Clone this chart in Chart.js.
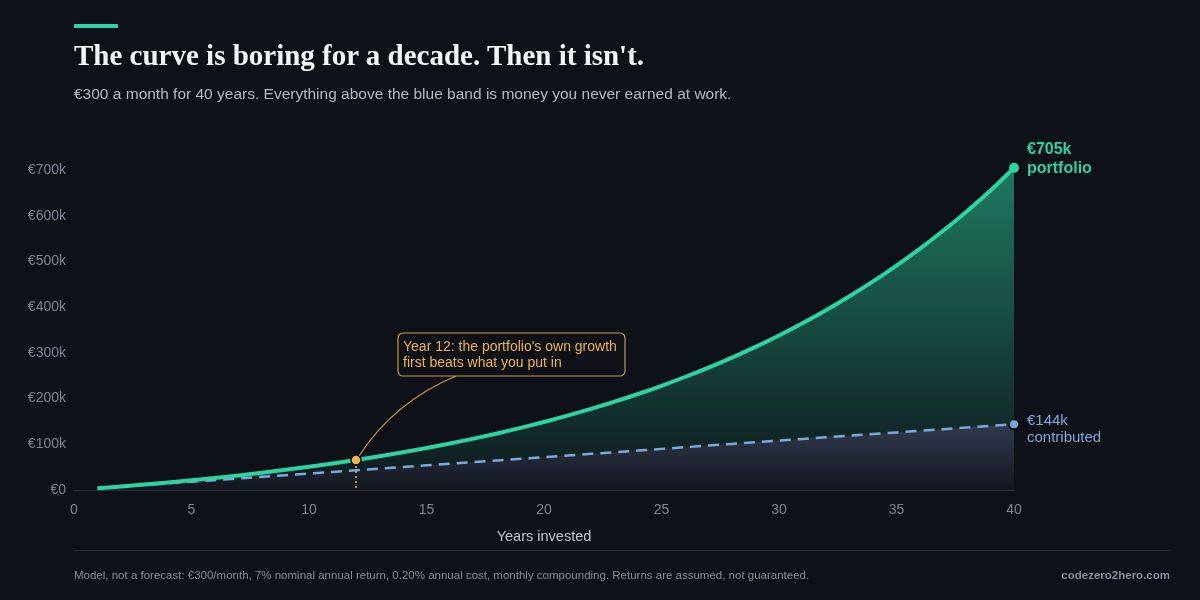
<!DOCTYPE html>
<html>
<head>
<meta charset="utf-8">
<script src="https://cdn.jsdelivr.net/npm/chart.js@4"></script>
<style>
  html, body { margin: 0; padding: 0; background: #0e1118; }
  #wrap { position: relative; width: 1200px; height: 600px; overflow: hidden; }
  #chart { position: absolute; left: 0; top: 0; }
  .accent { position: absolute; left: 74px; top: 24px; width: 44px; height: 4px; background: #2dd4a0; }
  .title { position: absolute; left: 74px; top: 39px; font-family: "Liberation Serif", serif; font-weight: bold;
    font-size: 29px; color: #f3f4f6; white-space: nowrap; }
  .subtitle { position: absolute; left: 74px; top: 85px; font-family: "Liberation Sans", sans-serif;
    font-size: 15.5px; color: #b4b9c2; white-space: nowrap; }
  .rule { position: absolute; left: 74px; top: 550px; width: 1096px; height: 1px; background: #262b35; }
  .foot { position: absolute; left: 74px; top: 569px; font-family: "Liberation Sans", sans-serif;
    font-size: 11.5px; color: #858c99; white-space: nowrap; }
  .brand { position: absolute; right: 30px; top: 569px; font-family: "Liberation Sans", sans-serif;
    font-size: 11.5px; font-weight: bold; color: #858c99; }
</style>
</head>
<body>
<div id="wrap">
  <canvas id="chart" width="1200" height="600"></canvas>
  <div class="accent"></div>
  <div class="title">The curve is boring for a decade. Then it isn't.</div>
  <div class="subtitle">€300 a month for 40 years. Everything above the blue band is money you never earned at work.</div>
  <div class="rule"></div>
  <div class="foot">Model, not a forecast: €300/month, 7% nominal annual return, 0.20% annual cost, monthly compounding. Returns are assumed, not guaranteed.</div>
  <div class="brand">codezero2hero.com</div>
</div>
<script>
// years invested
const years = [1, 2, 3, 4, 5, 6, 7, 8, 9, 10, 11, 12, 13, 14, 15, 16, 17, 18, 19, 20,
  21, 22, 23, 24, 25, 26, 27, 28, 29, 30, 31, 32, 33, 34, 35, 36, 37, 38, 39, 40];

// portfolio value (€)
const portfolio = [3700, 7700, 11900, 16400, 21300, 26400, 31900, 37800, 44100, 50800,
  58000, 65600, 73800, 82500, 91800, 101800, 112400, 123800, 135900, 148900,
  162700, 177500, 193200, 210100, 228100, 247300, 267800, 289800, 313200, 338200,
  364900, 393400, 423900, 456400, 491200, 528300, 567900, 610200, 655500, 705000];

// money put in (€)
const contributed = [3600, 7200, 10800, 14400, 18000, 21600, 25200, 28800, 32400, 36000,
  39600, 43200, 46800, 50400, 54000, 57600, 61200, 64800, 68400, 72000,
  75600, 79200, 82800, 86400, 90000, 93600, 97200, 100800, 104400, 108000,
  111600, 115200, 118800, 122400, 126000, 129600, 133200, 136800, 140400, 144000];

const yTicks = [0, 100000, 200000, 300000, 400000, 500000, 600000, 700000];
const xTicks = [0, 5, 10, 15, 20, 25, 30, 35, 40];

const markYear = 12;
const noteLines = ["Year 12: the portfolio's own growth", "first beats what you put in"];

const GREEN = '#2dd4a0';
const BLUE = '#7ea8dc';
const ORANGE = '#f0b44c';
const BG = '#0e1118';
const SANS = '"Liberation Sans", Arial, sans-serif';

const last = years.length - 1;

function greenFill(c) {
  const a = c.chart.chartArea;
  if (!a) return 'rgba(45,212,160,0.3)';
  const g = c.chart.ctx.createLinearGradient(0, a.top, 0, a.bottom);
  g.addColorStop(0, 'rgba(45,212,160,0.55)');
  g.addColorStop(1, 'rgba(45,212,160,0.04)');
  return g;
}

function blueFill(c) {
  const chart = c.chart;
  const a = chart.chartArea;
  if (!a) return 'rgba(120,140,180,0.2)';
  const top = chart.scales.y.getPixelForValue(contributed[last]);
  const g = chart.ctx.createLinearGradient(0, top, 0, a.bottom);
  g.addColorStop(0, 'rgba(120,140,185,0.34)');
  g.addColorStop(1, 'rgba(120,140,185,0.05)');
  return g;
}

// annotation, end labels
const overlay = {
  id: 'overlay',
  afterDatasetsDraw(chart) {
    const ctx = chart.ctx;
    const xs = chart.scales.x, ys = chart.scales.y;
    const i = years.indexOf(markYear);
    const px = xs.getPixelForValue(markYear);
    const py = ys.getPixelForValue(portfolio[i]);
    const base = ys.getPixelForValue(0);

    ctx.save();
    // dotted drop line
    ctx.strokeStyle = ORANGE;
    ctx.lineWidth = 1.5;
    ctx.setLineDash([2, 3]);
    ctx.beginPath();
    ctx.moveTo(px, py + 6);
    ctx.lineTo(px, base);
    ctx.stroke();
    ctx.setLineDash([]);

    // box
    const bx = px + 42, by = py - 127, bw = 227, bh = 43;
    ctx.strokeStyle = '#c99a48';
    ctx.lineWidth = 1.2;
    ctx.beginPath();
    ctx.moveTo(px + 3, py - 4);
    ctx.quadraticCurveTo(px + 38, py - 58, bx + 58, by + bh);
    ctx.stroke();

    ctx.fillStyle = BG;
    ctx.beginPath();
    ctx.roundRect(bx, by, bw, bh, 5);
    ctx.fill();
    ctx.stroke();

    ctx.fillStyle = ORANGE;
    ctx.font = '14px ' + SANS;
    ctx.textBaseline = 'middle';
    ctx.textAlign = 'left';
    ctx.fillText(noteLines[0], bx + 5, by + 14);
    ctx.fillText(noteLines[1], bx + 5, by + 30);

    // marker dot
    ctx.fillStyle = ORANGE;
    ctx.strokeStyle = BG;
    ctx.lineWidth = 1.5;
    ctx.beginPath();
    ctx.arc(px, py, 5, 0, Math.PI * 2);
    ctx.fill();
    ctx.stroke();

    // end labels
    const ex = xs.getPixelForValue(years[last]) + 13;
    const gy = ys.getPixelForValue(portfolio[last]);
    ctx.fillStyle = GREEN;
    ctx.font = 'bold 16px ' + SANS;
    ctx.fillText('€' + Math.round(portfolio[last] / 1000) + 'k', ex, gy - 18);
    ctx.fillText('portfolio', ex, gy + 1);

    const cy = ys.getPixelForValue(contributed[last]);
    ctx.fillStyle = BLUE;
    ctx.font = '15px ' + SANS;
    ctx.fillText('€' + Math.round(contributed[last] / 1000) + 'k', ex, cy - 3);
    ctx.fillText('contributed', ex, cy + 14);
    ctx.restore();
  }
};

new Chart(document.getElementById('chart'), {
  type: 'line',
  data: {
    labels: years,
    datasets: [
      {
        label: 'Portfolio',
        data: years.map((y, k) => ({ x: y, y: portfolio[k] })),
        borderColor: GREEN,
        borderWidth: 4,
        backgroundColor: greenFill,
        fill: '+1',
        tension: 0.3,
        cubicInterpolationMode: 'monotone',
        pointRadius: c => c.dataIndex === last ? 5 : 0,
        pointBackgroundColor: GREEN,
        pointBorderWidth: 0,
        clip: false
      },
      {
        label: 'Contributed',
        data: years.map((y, k) => ({ x: y, y: contributed[k] })),
        borderColor: BLUE,
        borderWidth: 2.5,
        borderDash: [11, 7],
        backgroundColor: blueFill,
        fill: 'origin',
        tension: 0,
        pointRadius: c => c.dataIndex === last ? 5 : 0,
        pointBackgroundColor: BLUE,
        pointBorderColor: BG,
        pointBorderWidth: 2,
        clip: false
      }
    ]
  },
  options: {
    responsive: false,
    animation: false,
    layout: { padding: { left: 0, right: 186, top: 161, bottom: 50 } },
    plugins: {
      legend: { display: false },
      tooltip: { enabled: false }
    },
    scales: {
      x: {
        type: 'linear',
        min: 0,
        max: 40,
        afterBuildTicks: s => { s.ticks = xTicks.map(v => ({ value: v })); },
        afterFit: s => { s.height = 60; },
        grid: { display: false, drawTicks: false },
        border: { display: true, color: '#2a2f3a', width: 1 },
        ticks: { color: '#7d8594', padding: 12, font: { family: SANS, size: 14 } },
        title: {
          display: true,
          text: 'Years invested',
          color: '#c2c6ce',
          padding: { top: 4, bottom: 4 },
          font: { family: SANS, size: 14.5 }
        }
      },
      y: {
        min: 0,
        max: 720000,
        afterBuildTicks: s => { s.ticks = yTicks.map(v => ({ value: v })); },
        afterFit: s => { s.width = 74; },
        grid: { display: false, drawTicks: false },
        border: { display: false },
        ticks: {
          color: '#7d8594',
          padding: 8,
          font: { family: SANS, size: 14 },
          callback: v => v === 0 ? '€0' : '€' + (v / 1000) + 'k'
        }
      }
    }
  },
  plugins: [overlay]
});
</script>
</body>
</html>
